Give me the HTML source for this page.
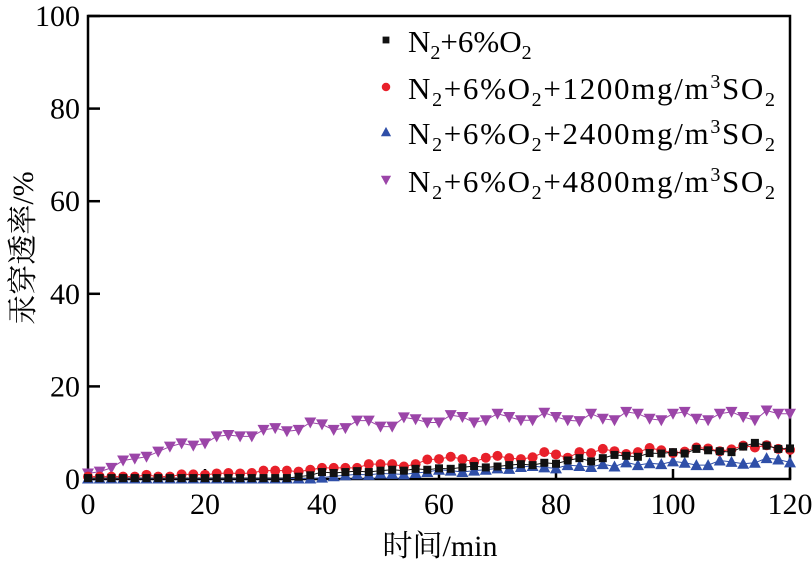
<!DOCTYPE html>
<html><head><meta charset="utf-8"><style>
html,body{margin:0;padding:0;background:#fff;}
svg text{font-family:"Liberation Serif","Noto Serif CJK SC",serif;}
</style></head><body>
<svg width="812" height="568" viewBox="0 0 812 568">
<g id="plot"></g>
</svg>
<script>
const times = Array.from({length:61},(_, i)=>i*2);
const xTicks = [0,20,40,60,80,100,120];
const yTicks = [0,20,40,60,80,100];
const seriesBlack = [0.2,0.2,0.2,0.2,0.2,0.2,0.2,0.2,0.2,0.2,0.2,0.2,0.2,0.2,0.2,0.2,0.2,0.2,0.5,0.8,1.5,1.3,1.5,1.7,1.5,1.8,2.0,1.8,2.2,2.0,2.3,2.2,2.5,2.8,2.5,2.7,3.0,3.2,3.0,3.5,3.3,4.0,4.5,3.8,4.5,5.2,5.0,4.8,5.6,5.5,5.8,5.5,6.5,6.2,6.0,5.8,7.0,7.8,7.2,6.5,6.6];
const seriesRed = [0.5,0.5,0.5,0.5,0.5,0.9,0.5,0.5,1.0,1.0,0.9,1.2,1.3,1.2,1.3,1.8,1.8,1.8,1.6,2.0,2.4,2.4,2.4,2.4,3.2,3.2,3.2,2.7,3.2,4.2,4.3,4.8,4.3,3.7,4.6,5.0,4.5,4.3,4.7,5.8,5.3,4.6,5.8,5.6,6.5,6.0,5.4,5.8,6.7,6.2,5.6,5.9,6.8,6.6,6.0,6.4,7.2,6.8,7.3,6.5,6.3];
const seriesBlue = [0.1,0.1,0.1,0.1,0.1,0.1,0.1,0.1,0.1,0.1,0.1,0.1,0.1,0.1,0.1,0.1,0.1,0.1,0.1,0.1,0.3,0.6,0.8,1.0,0.9,1.2,1.1,1.0,1.3,1.5,2.0,1.8,1.5,1.8,2.0,2.3,2.2,2.6,2.8,2.5,2.3,3.0,2.8,2.6,3.2,2.7,3.6,3.0,3.4,3.2,3.8,3.5,3.0,3.0,4.0,3.7,3.3,3.5,4.5,4.2,3.6];
const seriesPurple = [1.2,1.6,2.4,4.0,4.4,4.8,5.9,7.0,7.7,7.2,7.7,9.2,9.5,9.2,9.2,10.6,11.0,10.3,10.6,12.2,11.8,10.6,11.0,12.6,12.6,11.3,11.3,13.3,12.9,12.2,12.2,13.8,13.4,12.2,12.7,14.1,13.4,12.7,12.7,14.3,13.4,12.7,12.5,14.1,13.0,12.7,14.5,14.1,13.0,12.7,14.1,14.5,13.0,12.7,14.1,14.5,13.4,12.7,14.8,14.1,14.1];

const L=88,R=790,T=16,B=479;
const xs=v=>L+(v/120)*(R-L);
const ys=v=>B-(v/100)*(B-T);
const NS='http://www.w3.org/2000/svg';
const g=document.getElementById('plot');
function mk(tag,attrs,parent){const e=document.createElementNS(NS,tag);for(const k in attrs)e.setAttribute(k,attrs[k]);(parent||g).appendChild(e);return e;}

const frame=mk('rect',{x:L,y:T,width:R-L,height:B-T,fill:'none',stroke:'#000','stroke-width':2.5});



xTicks.forEach(t=>{
  const ln=mk('line',{x1:xs(t),x2:xs(t),y1:B,y2:B-10,stroke:'#000','stroke-width':2.5});
  
  
  const tx=mk('text',{x:xs(t),y:B+35,'text-anchor':'middle','font-size':30});
  tx.textContent=t;
  
  
});
yTicks.forEach(t=>{
  const ln=mk('line',{x1:L,x2:L+12,y1:ys(t),y2:ys(t),stroke:'#000','stroke-width':2.5});
  
  
  const tx=mk('text',{x:L-8,y:ys(t)+10,'text-anchor':'end','font-size':30});
  tx.textContent=t;
  
  
});

function marker(type,cx,cy,color,parent,s){
  s=s||1;
  let e;
  if(type==='square') e=mk('rect',{x:cx-4*s,y:cy-4*s,width:8*s,height:8*s,fill:color},parent);
  else if(type==='circle') e=mk('circle',{cx:cx,cy:cy,r:5*s,fill:color},parent);
  else if(type==='up') e=mk('polygon',{points:`${cx},${cy-6*s} ${cx-6*s},${cy+5*s} ${cx+6*s},${cy+5*s}`,fill:color},parent);
  else e=mk('polygon',{points:`${cx},${cy+6*s} ${cx-6*s},${cy-5*s} ${cx+6*s},${cy-5*s}`,fill:color},parent);
  return e;
}
const series=[
  {data:seriesPurple,color:'#9b45a8',m:'down',name:'series-4800'},
  {data:seriesBlue,color:'#2f4fa8',m:'up',name:'series-2400'},
  {data:seriesRed,color:'#e8202a',m:'circle',name:'series-1200'},
  {data:seriesBlack,color:'#111',m:'square',name:'series-no-so2'}
];
series.forEach(s=>{
  const grp=mk('g',{});
  
  
  const pl=mk('polyline',{points:s.data.map((v,i)=>xs(times[i])+','+ys(v)).join(' '),fill:'none',stroke:s.color,'stroke-width':1},grp);
  
  
  s.data.forEach((v,i)=>{
    const p=marker(s.m,xs(times[i]),ys(v),s.color,grp);
    
    
  });
});

const sub='<tspan font-size="20" dy="7">2</tspan>';
const tail=(n)=>'<tspan dy="-7">+'+n+'mg/m</tspan><tspan font-size="20" dy="-11">3</tspan><tspan dy="11">SO</tspan>'+sub;
const base='N'+sub+'<tspan dy="-7">+6%O</tspan>'+sub;
const legend=[
  {m:'square',c:'#111',y:40,html:base},
  {m:'circle',c:'#e8202a',y:87,html:base+tail(1200)},
  {m:'up',c:'#2f4fa8',y:132,html:base+tail(2400)},
  {m:'down',c:'#9b45a8',y:180,html:base+tail(4800)}
];
legend.forEach(l=>{
  const grp=mk('g',{});
  
  
  marker(l.m,386,l.y,l.c,grp,0.85);
  const t=mk('text',{x:408,y:l.y+12,'font-size':31,textLength:l.html===base?0:367},grp);
  if(l.html===base) t.removeAttribute('textLength');
  t.innerHTML=l.html;
});

const xl=mk('text',{x:440,y:556,'text-anchor':'middle','font-size':30});
xl.textContent='时间/min';


const yl=mk('text',{x:0,y:0,'text-anchor':'middle','font-size':30,transform:'translate(33,248) rotate(-90)'});
yl.textContent='汞穿透率/%';


</script>
</body></html>
